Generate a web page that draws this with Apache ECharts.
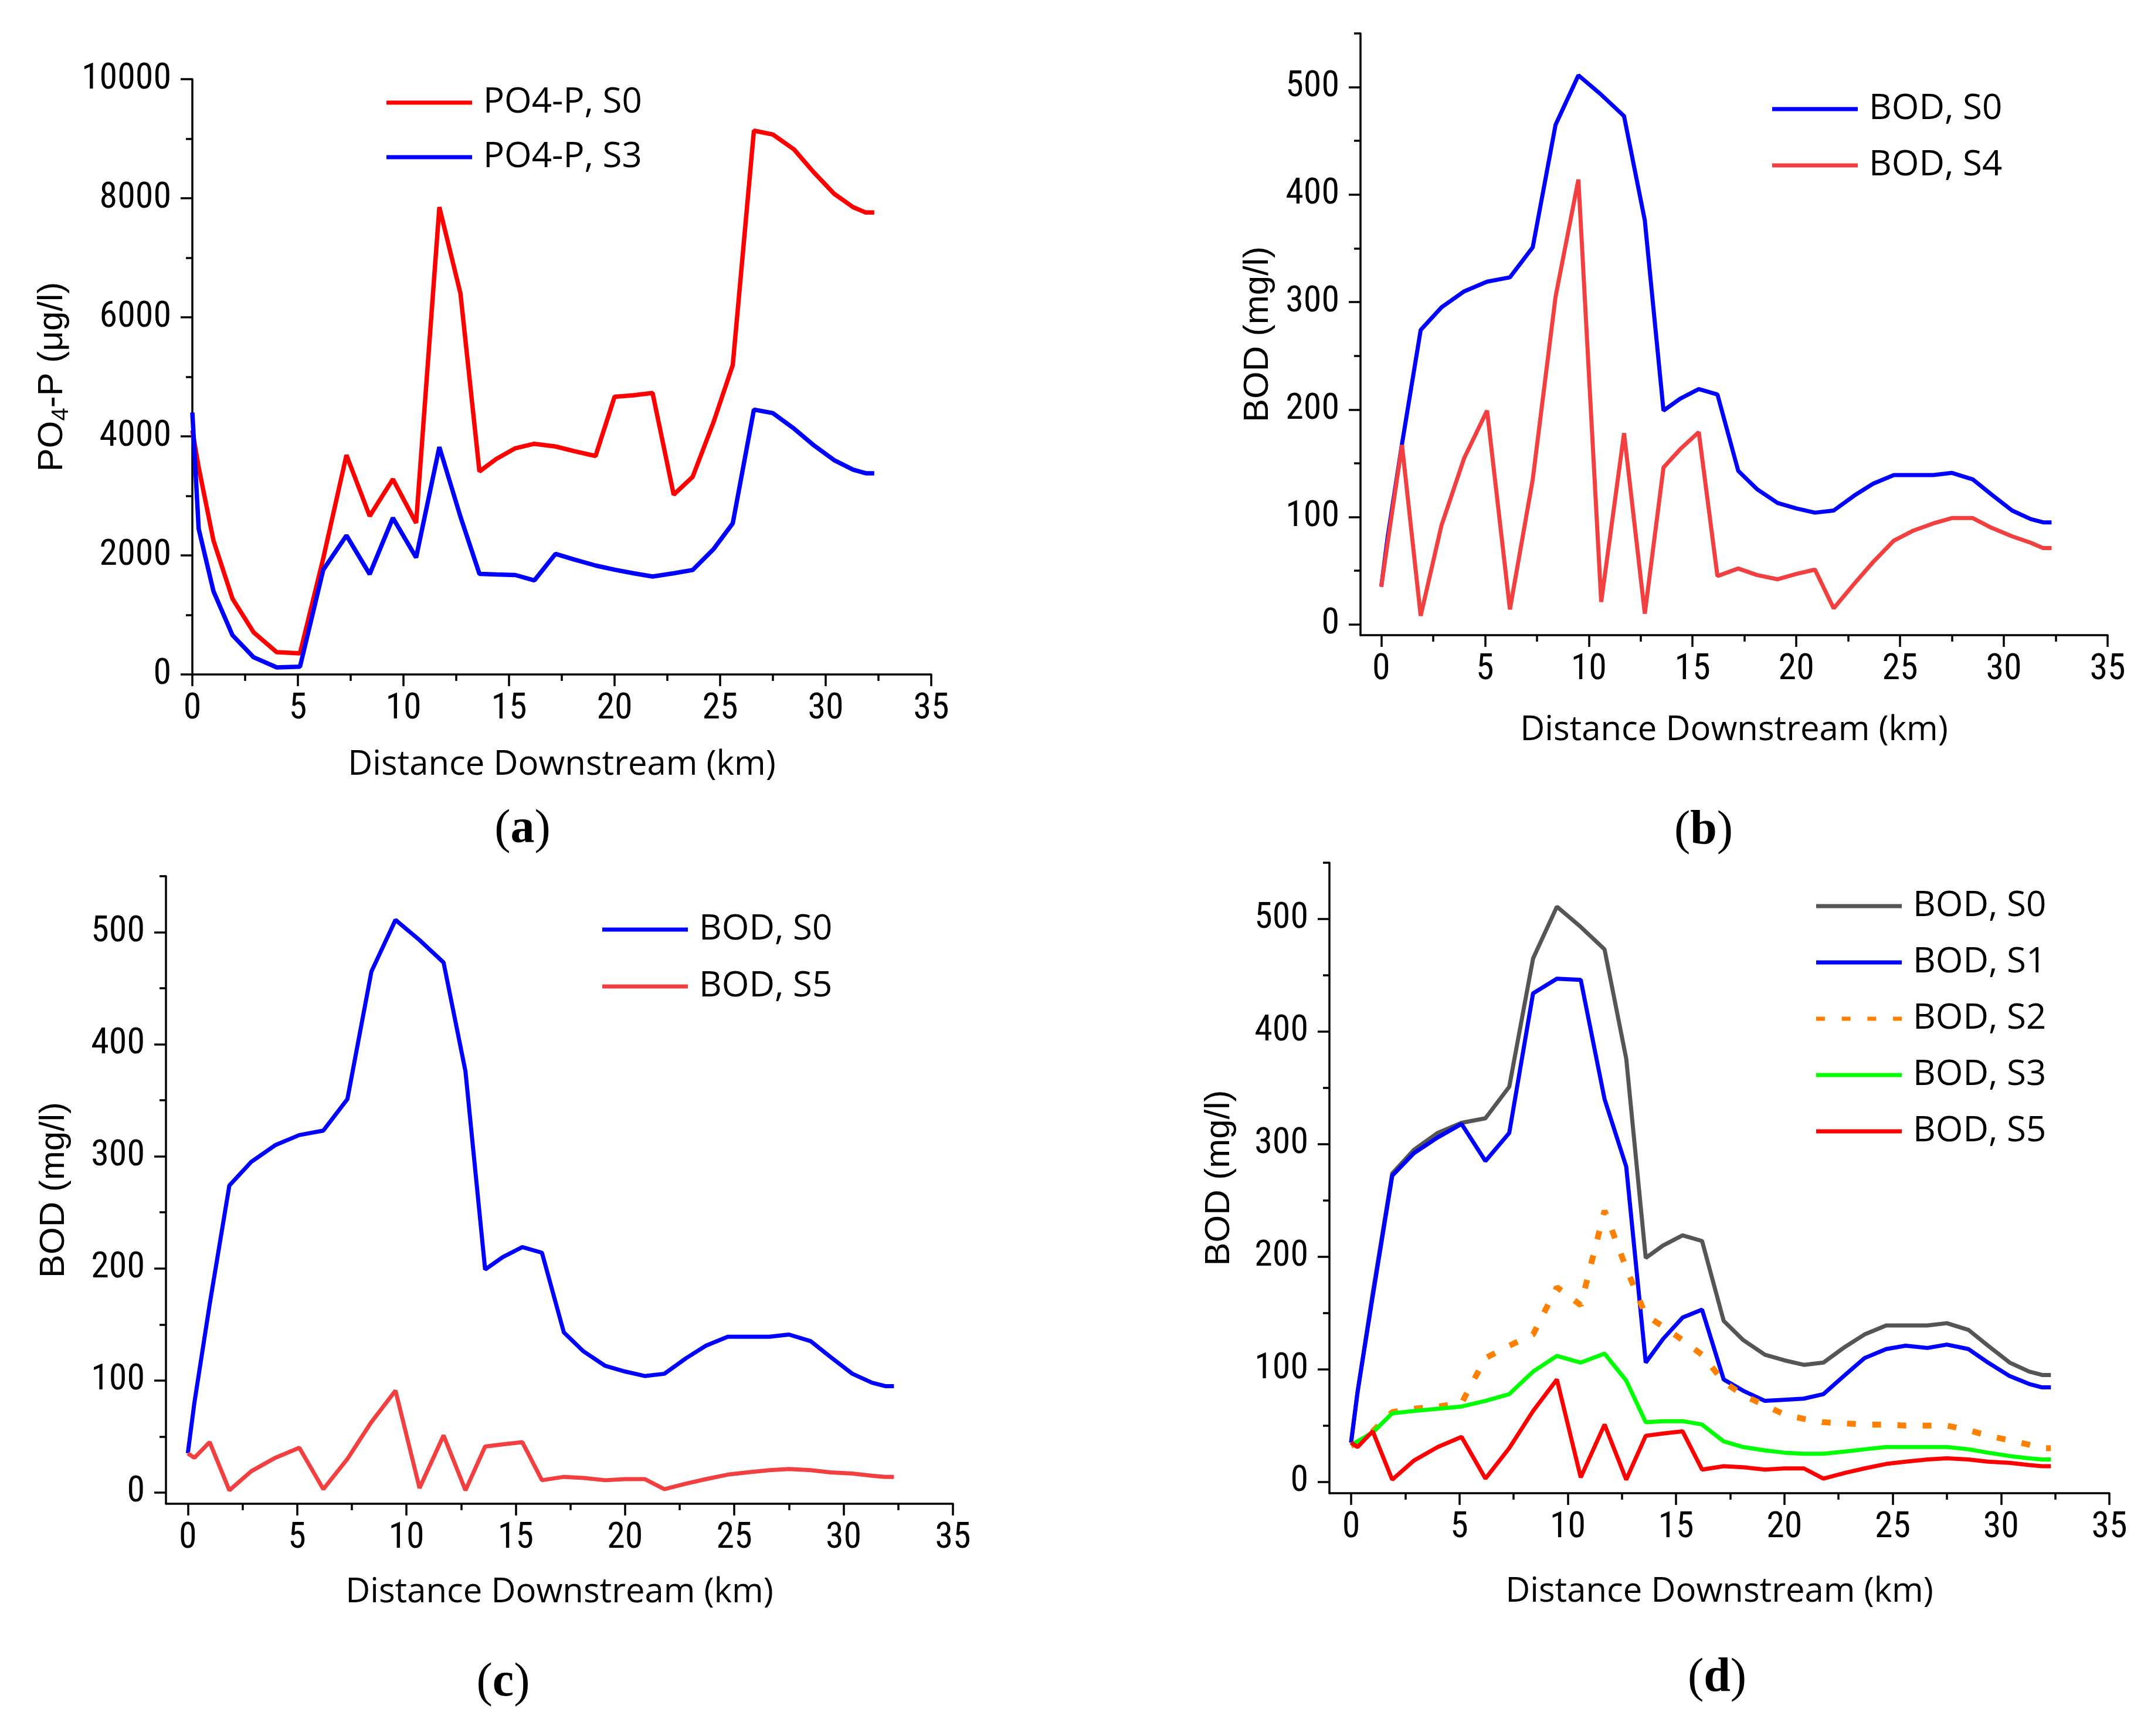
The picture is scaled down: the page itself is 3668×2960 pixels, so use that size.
<!DOCTYPE html>
<html>
<head>
<meta charset="utf-8">
<script src="https://cdn.jsdelivr.net/npm/echarts@6/dist/echarts.min.js"></script>
<style>
  html, body { margin: 0; padding: 0; background: #fff; }
  #chart { width: 3668px; height: 2960px; }
</style>
</head>
<body>
<div id="chart"></div>
<script>
// Distance downstream (km), shared by all series
const dist = [0, 0.3, 1.0, 1.9, 2.9, 4.0, 5.1, 6.2, 7.3, 8.4, 9.5, 10.6, 11.7, 12.7, 13.6, 14.4, 15.3, 16.2,
  17.2, 18.1, 19.1, 20.0, 20.9, 21.8, 22.8, 23.7, 24.7, 25.6, 26.6, 27.5, 28.5, 29.4, 30.4, 31.3, 31.9, 32.3];

// (a) PO4-P (ug/l)
const po4S0 = [4100, 3480, 2250, 1274, 709, 374, 355, 1950, 3685, 2660, 3280, 2545, 7850, 6400, 3410, 3620, 3800, 3875,
  3830, 3750, 3670, 4665, 4690, 4730, 3020, 3320, 4250, 5200, 9135, 9070, 8820, 8450, 8075, 7850, 7760, 7760];
const po4S3 = [4400, 2446, 1400, 660, 289, 118, 131, 1757, 2335, 1685, 2630, 1964, 3820, 2650, 1690, 1680, 1670, 1580,
  2025, 1930, 1830, 1760, 1700, 1645, 1700, 1755, 2110, 2540, 4450, 4390, 4130, 3860, 3600, 3440, 3380, 3380];

// BOD (mg/l)
const bodS0 = [35, 80, 168, 274, 295, 310, 319, 323, 351, 465, 511, 493, 473, 376, 199, 210, 219, 214,
  143, 126, 113, 108, 104, 106, 120, 131, 139, 139, 139, 141, 135, 121, 106, 98, 95, 95];
const bodS1 = [35, 80, 165, 272, 292, 306, 318, 285, 310, 434, 447, 446, 340, 280, 106, 127, 146, 153,
  91, 81, 72, 73, 74, 78, 95, 110, 118, 121, 119, 122, 118, 106, 94, 87, 84, 84];
const bodS2 = [32, 35, 45, 62, 65, 67, 70, 110, 121, 131, 173, 157, 241, 190, 148, 138, 126, 113,
  89, 77, 68, 60, 56, 53, 52, 51, 51, 50, 50, 50, 46, 41, 37, 33, 30, 30];
const bodS3 = [33, 36, 44, 61, 63, 65, 67, 72, 78, 98, 112, 106, 114, 90, 53, 54, 54, 51,
  36, 31, 28, 26, 25, 25, 27, 29, 31, 31, 31, 31, 29, 26, 23, 21, 20, 20];
const bodS4 = [35, 75, 167, 8, 92, 155, 199, 14, 135, 305, 414, 21, 178, 10, 146, 163, 179, 45,
  52, 46, 42, 47, 51, 15, 38, 58, 78, 87, 94, 99, 99, 90, 82, 76, 71, 71];
const bodS5 = [35, 31, 45, 2, 19, 31, 40, 3, 30, 63, 91, 4, 51, 2, 41, 43, 45, 11,
  14, 13, 11, 12, 12, 3, 8, 12, 16, 18, 20, 21, 20, 18, 17, 15, 14, 14];

// Tick values
const xTicks = [0, 5, 10, 15, 20, 25, 30, 35];
const xMinor = [2.5, 7.5, 12.5, 17.5, 22.5, 27.5, 32.5];
const po4Ticks = [0, 2000, 4000, 6000, 8000, 10000];
const po4Minor = [1000, 3000, 5000, 7000, 9000];
const bodTicks = [0, 100, 200, 300, 400, 500];
const bodMinor = [50, 150, 250, 350, 450, 550];

const TICK_FONT = "'Liberation Sans Narrow', 'Arial Narrow', 'Roboto Condensed', 'Open Sans', sans-serif";
const TEXT_FONT = "'Open Sans', 'Noto Sans', sans-serif";
const TITLE_FONT = "'Liberation Sans', Arial, sans-serif";
const SERIF = "'Liberation Serif', 'DejaVu Serif', serif";
const AXIS_W = 3.5;
const DOTTED_ICON = 'path://M0,0h15v7h-15z M44,0h15v7h-15z M88,0h15v7h-15z M132,0h15v7h-15z';

const pairs = (xs, ys) => xs.map((x, i) => [x, ys[i]]);

// one grid per panel (pixel positions)
const grids = [
  { left: 328, top: 135, width: 1260, height: 1015 },
  { left: 2320, top: 57, width: 1274, height: 1026 },
  { left: 283, top: 1494, width: 1342, height: 1070 },
  { left: 2267, top: 1471, width: 1330, height: 1075 }
];

function xAxesFor(gridIndex, min, nameGap) {
  return [{
    type: 'value', gridIndex: gridIndex, min: min, max: 35, position: 'bottom',
    name: 'Distance Downstream (km)', nameLocation: 'middle', nameGap: nameGap,
    nameTextStyle: { fontSize: 58, fontFamily: TEXT_FONT, color: '#000' },
    axisLine: { show: true, onZero: false, lineStyle: { color: '#000', width: AXIS_W } },
    axisTick: { show: true, customValues: xTicks, length: 20, lineStyle: { color: '#000', width: AXIS_W } },
    axisLabel: { show: true, customValues: xTicks, margin: 28, fontSize: 62, fontFamily: TICK_FONT, color: '#000',
      formatter: v => String(v) },
    splitLine: { show: false }
  }, {
    type: 'value', gridIndex: gridIndex, min: min, max: 35, position: 'bottom',
    axisLine: { show: false, onZero: false },
    axisTick: { show: true, customValues: xMinor, length: 11, lineStyle: { color: '#000', width: AXIS_W } },
    axisLabel: { show: false },
    splitLine: { show: false }
  }];
}

function yAxesFor(gridIndex, min, max, ticks, minor, name, nameGap) {
  return [{
    type: 'value', gridIndex: gridIndex, min: min, max: max, position: 'left',
    name: name, nameLocation: 'middle', nameGap: nameGap,
    nameTextStyle: {
      fontSize: 60, fontFamily: TITLE_FONT, color: '#000',
      rich: {
        t: { fontSize: 60, fontFamily: TITLE_FONT, color: '#000', lineHeight: 72 },
        sub: { fontSize: 40, fontFamily: TITLE_FONT, color: '#000', verticalAlign: 'bottom', lineHeight: 40 }
      }
    },
    axisLine: { show: true, onZero: false, lineStyle: { color: '#000', width: AXIS_W } },
    axisTick: { show: true, customValues: ticks, length: 20, lineStyle: { color: '#000', width: AXIS_W } },
    axisLabel: { show: true, customValues: ticks, margin: 36, fontSize: 62, fontFamily: TICK_FONT, color: '#000',
      formatter: v => String(v) },
    splitLine: { show: false }
  }, {
    type: 'value', gridIndex: gridIndex, min: min, max: max, position: 'left',
    axisLine: { show: false, onZero: false },
    axisTick: { show: true, customValues: minor, length: 11, lineStyle: { color: '#000', width: AXIS_W } },
    axisLabel: { show: false },
    splitLine: { show: false }
  }];
}

const xAxis = [].concat(
  xAxesFor(0, 0, 125),
  xAxesFor(1, -1, 133),
  xAxesFor(2, -1, 122),
  xAxesFor(3, -1, 139)
);
const yAxis = [].concat(
  yAxesFor(0, 0, 10000, po4Ticks, po4Minor, '{t|PO}{sub|4}{t|-P (μg/l)}', 203),
  yAxesFor(1, -10, 550, bodTicks, bodMinor, '{t|BOD (mg/l)}', 139),
  yAxesFor(2, -10, 550, bodTicks, bodMinor, '{t|BOD (mg/l)}', 155),
  yAxesFor(3, -10, 550, bodTicks, bodMinor, '{t|BOD (mg/l)}', 152)
);

// panel index -> main axis index is panel*2
function line(name, panel, values, color, width, dash) {
  return {
    name: name, type: 'line', xAxisIndex: panel * 2, yAxisIndex: panel * 2,
    data: pairs(dist, values), symbol: 'none', animation: false,
    lineStyle: { color: color, width: width, type: dash || 'solid', cap: 'butt' },
    itemStyle: { color: color }
  };
}

const series = [
  line('PO4-P, S0|a', 0, po4S0, '#ff0000', 7.5),
  line('PO4-P, S3|a', 0, po4S3, '#0000ff', 7.5),
  line('BOD, S0|b', 1, bodS0, '#0000ff', 7),
  line('BOD, S4|b', 1, bodS4, '#f24040', 7),
  line('BOD, S0|c', 2, bodS0, '#0000ff', 7),
  line('BOD, S5|c', 2, bodS5, '#f24040', 7),
  line('BOD, S0|d', 3, bodS0, '#555555', 7),
  line('BOD, S1|d', 3, bodS1, '#0000ff', 7),
  line('BOD, S2|d', 3, bodS2, '#ff8000', 10, [15, 28]),
  line('BOD, S3|d', 3, bodS3, '#00ff00', 7),
  line('BOD, S5|d', 3, bodS5, '#ff0000', 7)
];

function legendFor(names, left, top, gap) {
  return {
    data: names.map(n => n.indexOf('S2') >= 0 ? { name: n, icon: DOTTED_ICON } : { name: n }),
    orient: 'vertical', left: left, top: top, itemGap: gap,
    icon: 'rect', itemWidth: 146, itemHeight: 7, selectedMode: false,
    formatter: n => n.split('|')[0],
    textStyle: { fontSize: 60, fontFamily: TEXT_FONT, color: '#000', lineHeight: 64, padding: [0, 0, 0, 14] }
  };
}

const legend = [
  legendFor(['PO4-P, S0|a', 'PO4-P, S3|a'], 654, 138, 29),
  legendFor(['BOD, S0|b', 'BOD, S4|b'], 3017, 149, 32),
  legendFor(['BOD, S0|c', 'BOD, S5|c'], 1022, 1548, 33),
  legendFor(['BOD, S0|d', 'BOD, S1|d', 'BOD, S2|d', 'BOD, S3|d', 'BOD, S5|d'], 3092, 1508, 32)
];

// panel letters
function panelLabel(letter, x, y) {
  return {
    type: 'text', x: x, y: y,
    style: {
      text: '{p|(}{b|' + letter + '}{p|)}', align: 'center', verticalAlign: 'middle',
      rich: {
        p: { fontSize: 82, fontFamily: SERIF, fill: '#000' },
        b: { fontSize: 82, fontWeight: 'bold', fontFamily: SERIF, fill: '#000' }
      }
    }
  };
}

const chart = echarts.init(document.getElementById('chart'), null, { renderer: 'canvas' });
chart.setOption({
  backgroundColor: '#ffffff',
  animation: false,
  grid: grids,
  xAxis: xAxis,
  yAxis: yAxis,
  legend: legend,
  series: series,
  graphic: [
    panelLabel('a', 891, 1415),
    panelLabel('b', 2905, 1417),
    panelLabel('c', 858, 2870),
    panelLabel('d', 2928, 2862)
  ]
});
</script>
</body>
</html>
